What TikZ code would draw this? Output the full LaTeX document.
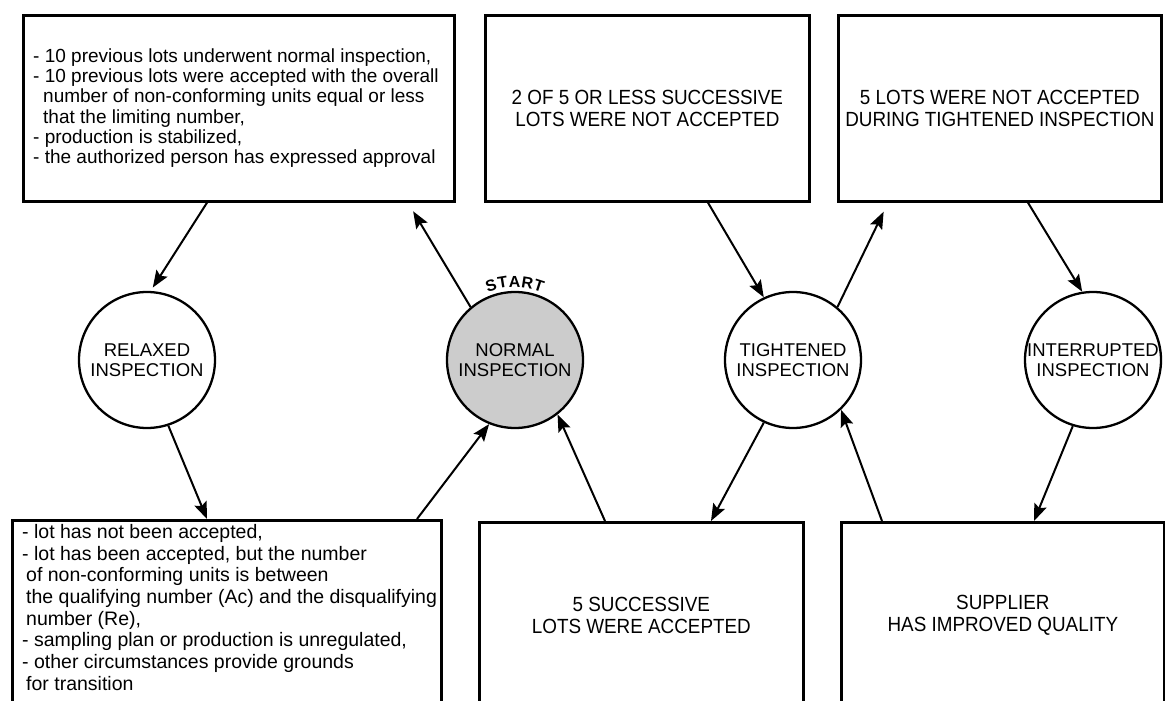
\documentclass[tikz,border=0pt]{standalone}
\usepackage{fontspec}
\setmainfont{Liberation Sans}
\newfontfamily\capsfont[FakeStretch=0.92]{Liberation Sans}
\usetikzlibrary{arrows.meta}
\begin{document}
\begin{tikzpicture}[x=1pt,y=-1pt,
  box/.style={draw,line width=2.7pt,rectangle,inner sep=0pt,anchor=north west},
  state/.style={draw,line width=2.3pt,circle,minimum size=136pt,inner sep=0pt,
    font=\fontsize{18.5}{20}\selectfont,align=center},
  capstext/.style={inner sep=0pt,align=center,font=\capsfont\fontsize{20.5}{21.5}\selectfont},
  listtext/.style={inner sep=0pt,anchor=north west,align=left},
  startletter/.style={inner sep=0pt,anchor=base,font=\bfseries\fontsize{16}{16}\selectfont},
  arr/.style={line width=2pt,-{Stealth[length=17pt,width=13pt,inset=3pt]}}]
\useasboundingbox (0,0) rectangle (1165,701);
\clip (0,0) rectangle (1165,701);

% boxes
\node[box,minimum width=431pt,minimum height=186pt] (tl) at (22,14) {};
\node[box,minimum width=324pt,minimum height=186pt] (tm) at (484,14) {};
\node[box,minimum width=323pt,minimum height=186pt] (tr) at (837,14) {};
\node[box,minimum width=429pt,minimum height=190pt] (bl) at (11,519) {};
\node[box,minimum width=324pt,minimum height=186pt] (bm) at (478,521) {};
\node[box,minimum width=323pt,minimum height=186pt] (br) at (840,521) {};

% box texts
\node[listtext,font=\fontsize{19}{20.2}\selectfont] (tltext) at (33,48.5)
 {- 10 previous lots underwent normal inspection,\\
  - 10 previous lots were accepted with the overall\\
  \hspace*{10pt}number of non-conforming units equal or less\\
  \hspace*{10pt}that the limiting number,\\
  - production is stabilized,\\
  - the authorized person has expressed approval};
\node[listtext,font=\fontsize{19.5}{21.7}\selectfont] (bltext) at (22,524)
 {- lot has not been accepted,\\
  - lot has been accepted, but the number\\
  \hspace*{4pt}of non-conforming units is between\\
  \hspace*{4pt}the qualifying number (Ac) and the disqualifying\\
  \hspace*{4pt}number (Re),\\
  - sampling plan or production is unregulated,\\
  - other circumstances provide grounds\\
  \hspace*{4pt}for transition};
\node[capstext] (tmtext) at (tm.center) {2 OF 5 OR LESS SUCCESSIVE\\LOTS WERE NOT ACCEPTED};
\node[capstext] (trtext) at (tr.center) {5 LOTS WERE NOT ACCEPTED\\DURING TIGHTENED INSPECTION};
\node[capstext] (bmtext) at (bm.center) {5 SUCCESSIVE\\LOTS WERE ACCEPTED};
\node[capstext] (brtext) at (br.center) {SUPPLIER\\HAS IMPROVED QUALITY};

% states
\node[state] (relaxed) at (147,360) {RELAXED\\INSPECTION};
\node[state,fill=gray!40] (normal) at (515,360) {NORMAL\\INSPECTION};
\node[state] (tightened) at (793,360) {TIGHTENED\\INSPECTION};
\node[state] (interrupted) at (1093,360) {INTERRUPTED\\INSPECTION};

% START label curved above the normal circle
\foreach \ch/\ang [count=\i] in {S/107.8,T/99.2,A/90.3,R/80.9,T/72.2}{
  \node[startletter,rotate=\ang-90] (start\i) at ([shift={(-\ang:73)}]normal.center) {\ch};
}

% connectors
\draw[arr,shorten >=4pt] ([xshift=185pt]tl.south west) -- (relaxed.87);
\draw[arr] (relaxed.-72) -- ([xshift=196pt]bl.north west);
\draw[arr] ([xshift=406pt]bl.north west) -- (normal.-112);
\draw[arr,shorten >=10pt] (normal.130) -- ([xshift=386pt]tl.south west);
\draw[arr] ([xshift=127pt]bm.north west) -- (normal.-52);
\draw[arr] ([xshift=224pt]tm.south west) -- (tightened.115);
\draw[arr,shorten >=10pt] (tightened.50) -- ([xshift=51pt]tr.south west);
\draw[arr] ([xshift=191pt]tr.south west) -- (interrupted.99);
\draw[arr] (interrupted.-107) -- ([xshift=194pt]br.north west);
\draw[arr] ([xshift=42pt]br.north west) -- (tightened.-46);
\draw[arr] (tightened.-115) -- ([xshift=233pt]bm.north west);
\end{tikzpicture}
\end{document}
